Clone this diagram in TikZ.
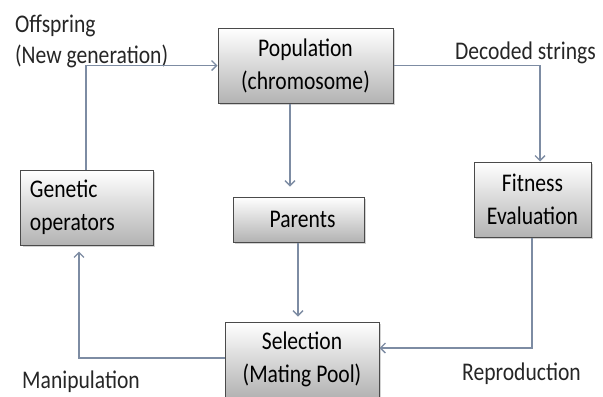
\documentclass[tikz,border=0pt]{standalone}
\usepackage{fontspec}
\setmainfont[FakeStretch=0.85]{Carlito}
\usetikzlibrary{arrows.meta,shadows,calc}
\definecolor{arr}{HTML}{7D8CA3}
\definecolor{boxline}{HTML}{4A4A4A}
\begin{document}
\begin{tikzpicture}[x=1bp,y=-1bp,
  box/.style={draw=boxline, line width=1bp, top color=white, bottom color=black!30,
    drop shadow={shadow xshift=2bp,shadow yshift=-2bp,opacity=0.35},
    inner sep=0pt, align=center, font=\fontsize{25.5}{33}\selectfont},
  lbl/.style={inner sep=0pt, anchor=base west, text=black!85, font=\fontsize{25.5}{28}\selectfont},
  arrow/.style={draw=arr, line width=1.3bp, -{Straight Barb[length=5bp,width=10bp]}}]
\fill[white] (0,0) rectangle (603,396);
\useasboundingbox (0,0) rectangle (603,396);

\node[box, minimum width=175bp, minimum height=75bp] (pop) at (305.5,65.5) {Population\\(chromosome)};
\node[box, minimum width=132bp, minimum height=75bp, text width=114bp, align=left, inner xsep=9bp] (gen) at (87,207.5) {Genetic\\operators};
\node[box, minimum width=131bp, minimum height=45bp] (par) at (298.5,219.5) {\hspace*{8bp}Parents};
\node[box, minimum width=117bp, minimum height=75bp] (fit) at (532.5,199.5) {Fitness\\Evaluation};
\node[box, minimum width=154bp, minimum height=75bp] (sel) at (302,359.5) {Selection\\(Mating Pool)};

\node[lbl] (off) at (15,32) {Offspring};
\node[lbl] (newgen) at (15,63) {(New generation)};
\node[lbl] (dec) at (455,59) {Decoded strings};
\node[lbl] (man) at (22,388) {Manipulation};
\node[lbl] (rep) at (462,380) {Reproduction};

\draw[arrow] ($(gen.north)+(-1,0)$) |- (pop.west);
\draw[arrow, shorten >=10bp] ($(pop.south)+(-15.5,0)$) -- ($(par.north)+(-8.5,0)$);
\draw[arrow] (pop.east) -| ($(fit.north)+(7.5,0)$);
\draw[arrow, shorten >=5bp] ($(par.south)+(-0.5,0)$) -- ($(sel.north)+(-4,0)$);
\draw[arrow] ($(fit.south)+(-0.5,0)$) |- ($(sel.east)+(0,-11.5)$);
\draw[arrow, shorten >=6bp] ($(sel.west)+(0,-1.5)$) -| ($(gen.south)+(-8,0)$);
\end{tikzpicture}
\end{document}
